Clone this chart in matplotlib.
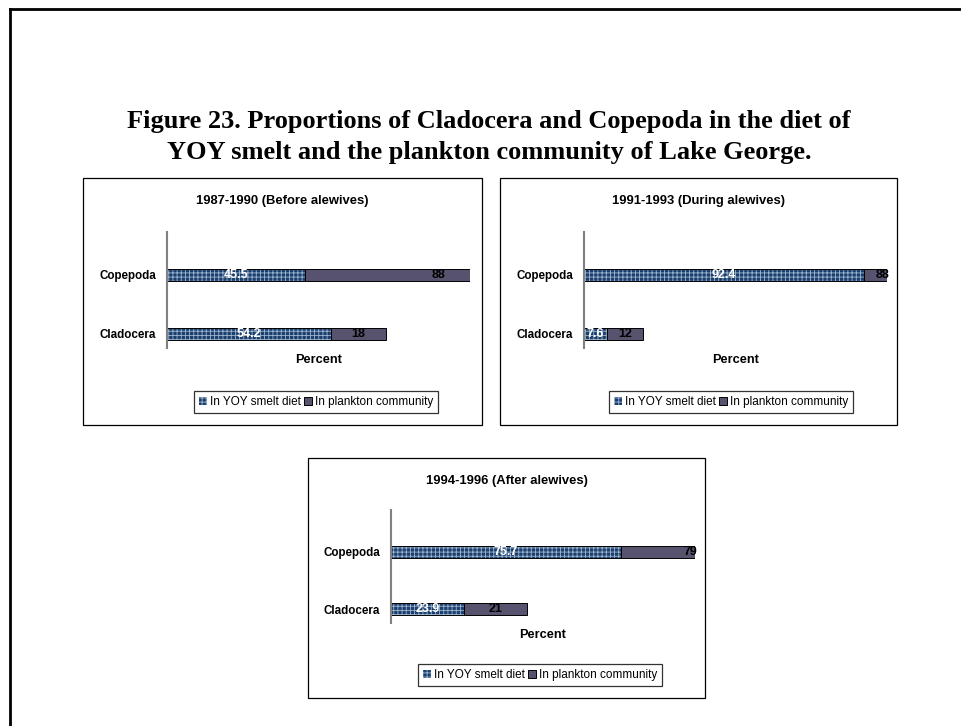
import matplotlib
matplotlib.use('Agg')
import matplotlib.pyplot as plt
from matplotlib.patches import Rectangle, Patch
from matplotlib.lines import Line2D

# data
categories = ['Cladocera', 'Copepoda']
panel_titles = ['1987-1990 (Before alewives)',
                '1991-1993 (During alewives)',
                '1994-1996 (After alewives)']
smelt_diet = [[54.2, 45.5], [7.6, 92.4], [23.9, 75.7]]
plankton = [[18, 88], [12, 88], [21, 79]]
series_names = ['In YOY smelt diet', 'In plankton community']
title_lines = ['Figure 23. Proportions of Cladocera and Copepoda in the diet of',
               'YOY smelt and the plankton community of Lake George.']

W, H = 961, 726
plt.rcParams['font.family'] = ['Liberation Sans', 'DejaVu Sans']
plt.rcParams['hatch.linewidth'] = 0.6

BLUE = '#1d3f6c'
HATCH = '#9cb6d2'
GREY = '#57536f'

fig = plt.figure(figsize=(W / 100, H / 100), dpi=100)


def fx(px):
    return px / W


def fy(py):
    return 1 - py / H


# outer frame (right/bottom fall off the page)
fig.add_artist(Line2D([fx(10), fx(10)], [fy(9), fy(H + 5)], color='black', lw=2))
fig.add_artist(Line2D([fx(10), fx(W + 5)], [fy(9), fy(9)], color='black', lw=2))

for k, line in enumerate(title_lines):
    fig.text(fx(489), fy(128 + 31 * k), line, ha='center', va='baseline',
             fontsize=19, fontweight='bold', family='Liberation Serif')

# box (l, r, t, b), axes (l, r, t, b), legend center
layout = [
    ((83, 482, 178, 425), (167, 470, 232, 348), (316, 402)),
    ((500, 897, 178, 425), (584, 887, 232, 348), (731, 402)),
    ((308, 705, 458, 698), (391, 695, 510, 623), (540, 675)),
]

for i in range(3):
    (bl, br, bt, bb), (al, ar, at, ab), (lx, ly) = layout[i]
    fig.add_artist(Rectangle((fx(bl), fy(bb)), fx(br) - fx(bl), fy(bt) - fy(bb),
                             fill=False, edgecolor='black', lw=0.9))
    ax = fig.add_axes([fx(al), fy(ab), fx(ar) - fx(al), fy(at) - fy(ab)])
    y = [0, 1]
    d = smelt_diet[i]
    p = plankton[i]
    ax.barh(y, d, height=0.2, color=BLUE, hatch='++++', edgecolor=HATCH, lw=0)
    ax.barh(y, d, height=0.2, fill=False, edgecolor='black', lw=0.7)
    ax.barh(y, p, left=d, height=0.2, color=GREY, edgecolor='black', lw=0.7)
    ax.set_xlim(0, 100)
    ax.set_ylim(-0.24, 1.73)
    for j in range(2):
        ax.text(d[j] / 2, y[j], str(d[j]), ha='center', va='center',
                color='white', fontsize=9, fontweight='bold')
        px = min(d[j] + p[j] / 2, 98.5)
        ax.text(px, y[j], str(p[j]), ha='center', va='center',
                color='black', fontsize=9, fontweight='bold', clip_on=False)
    ax.set_yticks(y, categories, fontsize=8.4, fontweight='bold')
    ax.tick_params(axis='y', length=0, pad=8)
    ax.set_xticks([])
    ax.set_xlabel('Percent', fontsize=9.2, fontweight='bold', labelpad=4)
    for s in ['top', 'right', 'bottom']:
        ax.spines[s].set_visible(False)
    ax.spines['left'].set_color('#808080')
    ax.spines['left'].set_linewidth(1.5)
    ax.patch.set_visible(False)

    fig.text(fx((bl + br) / 2), fy(bt + 23), panel_titles[i], ha='center',
             va='center', fontsize=9.4, fontweight='bold')

    handles = [Patch(facecolor=BLUE, hatch='++++', edgecolor=HATCH, lw=0),
               Patch(facecolor=GREY, edgecolor='black', lw=0.7)]
    leg = fig.legend(handles, series_names, loc='center',
                     bbox_to_anchor=(fx(lx), fy(ly)), ncol=2, fontsize=8.5,
                     frameon=True, fancybox=False, edgecolor='black',
                     handlelength=0.7, handleheight=0.7, handletextpad=0.2,
                     columnspacing=0.3, borderpad=0.45, borderaxespad=0)
    leg.get_frame().set_linewidth(0.9)

fig.savefig('out.png', dpi=100)
